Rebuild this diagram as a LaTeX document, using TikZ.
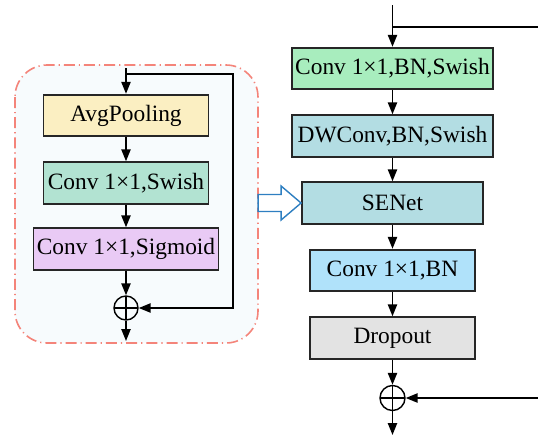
\documentclass[tikz,border=0pt]{standalone}
\usepackage{fontspec}
\setmainfont{Liberation Serif}
\usetikzlibrary{arrows.meta}

\definecolor{avgfill}{HTML}{FBEFC2}
\definecolor{swfill}{HTML}{B2E3D2}
\definecolor{sigfill}{HTML}{E9CAF5}
\definecolor{c1fill}{HTML}{A8EDBE}
\definecolor{dwfill}{HTML}{B3DDE3}
\definecolor{bnfill}{HTML}{B0E2FA}
\definecolor{dropfill}{HTML}{E3E3E3}
\definecolor{sebg}{HTML}{F7FBFD}
\definecolor{sebord}{HTML}{F4847A}
\definecolor{hollowblue}{HTML}{2E7FC1}

\tikzset{
  layer/.style={draw=black!85, line width=0.9pt, minimum height=20.8pt,
    inner sep=0pt, font=\fontsize{11.7}{13}\selectfont},
  addop/.style={draw, circle, line width=0.7pt, minimum size=12pt, inner sep=0pt,
    path picture={\draw[line width=0.7pt]
      (path picture bounding box.north) -- (path picture bounding box.south)
      (path picture bounding box.west) -- (path picture bounding box.east);}},
  flow/.style={line width=0.9pt, -{Triangle[length=6pt,width=4.6pt]}},
  wire/.style={line width=0.9pt},
}

\begin{document}
\begin{tikzpicture}[x=0.5pt,y=-0.5pt]
  \useasboundingbox (0,0) rectangle (538,436);

  % squeeze-and-excitation block, shown enlarged on the left
  \draw[sebord, fill=sebg, line width=0.8pt, rounded corners=16pt,
        dash pattern=on 5.5pt off 2pt on 0.6pt off 2pt]
    (15,65) rectangle (258,343);

  \node[layer, fill=avgfill, minimum width=82.5pt] (avg) at (126,115.5) {AvgPooling};
  \node[layer, fill=swfill,  minimum width=82.5pt] (sw)  at (126,183) {Conv 1×1,Swish};
  \node[layer, fill=sigfill, minimum width=92.5pt] (sig) at (126,249) {Conv 1×1,Sigmoid};
  \node[addop] (add1) at (126,308) {};

  \coordinate (sin)  at (126,68);
  \coordinate (sk)   at (233,74);
  \coordinate (sout) at (126,341);

  \draw[flow] (sin) -- (avg);
  \draw[flow] (avg) -- (sw);
  \draw[flow] (sw) -- (sig);
  \draw[flow] (sig) -- (add1);
  \draw[flow] (add1) -- (sout);
  \draw[flow] (sin |- sk) -- (sk) -- (sk |- add1) -- (add1);

  % MBConv block
  \node[layer, fill=c1fill,   minimum width=100.5pt] (c1)   at (392.5,68.5) {Conv 1×1,BN,Swish};
  \node[layer, fill=dwfill,   minimum width=100.5pt] (dw)   at (392.5,136) {DWConv,BN,Swish};
  \node[layer, fill=dwfill,   minimum width=90.5pt]  (se)   at (392.5,203) {SENet};
  \node[layer, fill=bnfill,   minimum width=82.5pt]  (bn)   at (392.5,270.5) {Conv 1×1,BN};
  \node[layer, fill=dropfill, minimum width=82.5pt]  (drop) at (392.5,338) {Dropout};
  \node[addop, minimum size=12.5pt] (add2) at (392.5,398) {};

  \coordinate (min)   at (392.5,5);
  \coordinate (skt)   at (538,27);
  \coordinate (skb)   at (538,398);
  \coordinate (mout)  at (392.5,435);

  \draw[flow] (min) -- (c1);
  \draw[wire] (c1 |- skt) -- (skt);
  \draw[flow] (c1) -- (dw);
  \draw[flow] (dw) -- (se);
  \draw[flow] (se) -- (bn);
  \draw[flow] (bn) -- (drop);
  \draw[flow] (drop) -- (add2);
  \draw[flow] (skb) -- (add2);
  \draw[flow] (add2) -- (mout);

  % hollow arrow pointing at the SENet layer
  \draw[hollowblue, fill=white, line width=0.7pt, line join=miter]
    (se.west) -- ++(-20,-17) -- ++(0,8.5) -- ++(-23,0) -- ++(0,17)
    -- ++(23,0) -- ++(0,8.5) -- cycle;
\end{tikzpicture}
\end{document}
